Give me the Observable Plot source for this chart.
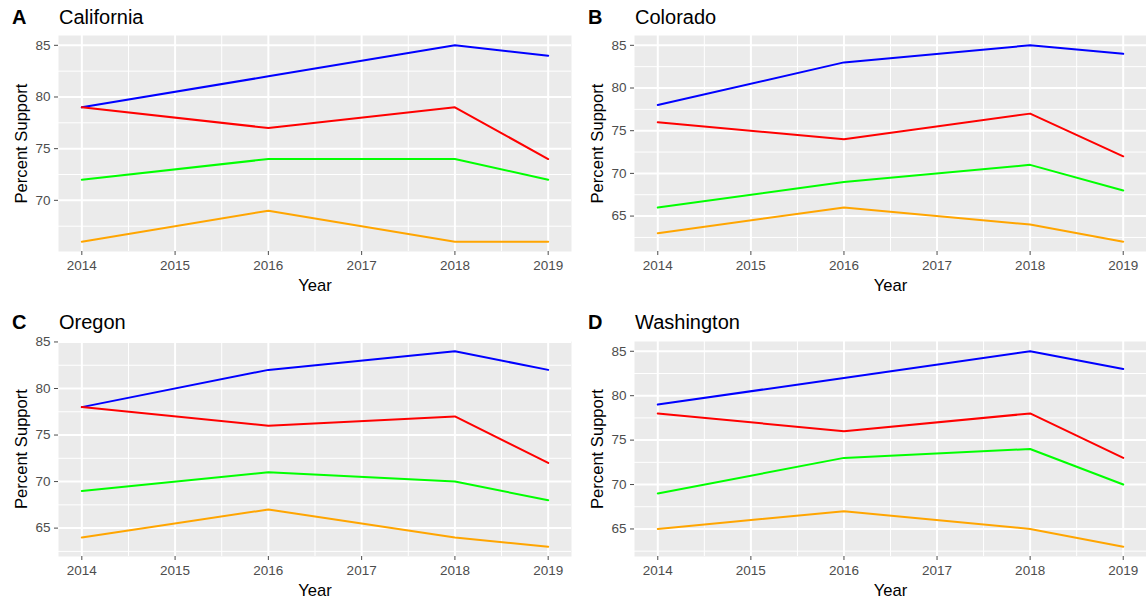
<!DOCTYPE html>
<html>
<head>
<meta charset="utf-8">
<script src="https://cdn.jsdelivr.net/npm/d3@7"></script>
<script src="https://cdn.jsdelivr.net/npm/@observablehq/plot@0.6"></script>
<style>
  html, body { margin: 0; padding: 0; background: #fff; }
  #root { position: relative; width: 1146px; height: 604px; overflow: hidden; font-family: "Liberation Sans", Arial, sans-serif; }
  .title { position: absolute; font-size: 20px; line-height: 20px; color: #000; white-space: nowrap; }
  .tag { font-weight: bold; }
  .chart { position: absolute; }
</style>
</head>
<body>
<div id="root"></div>
<script>
// ---- data ----
const years = [2014, 2016, 2018, 2019];
const seriesNames = ["Series 1", "Series 2", "Series 3", "Series 4"];
const seriesColors = ["blue", "red", "#00FF00", "orange"];
const xTicks = [2014, 2015, 2016, 2017, 2018, 2019];

const california = [
  [79, 82, 85, 84],
  [79, 77, 79, 74],
  [72, 74, 74, 72],
  [66, 69, 66, 66]
];
const colorado = [
  [78, 83, 85, 84],
  [76, 74, 77, 72],
  [66, 69, 71, 68],
  [63, 66, 64, 62]
];
const oregon = [
  [78, 82, 84, 82],
  [78, 76, 77, 72],
  [69, 71, 70, 68],
  [64, 67, 64, 63]
];
const washington = [
  [79, 82, 85, 83],
  [78, 76, 78, 73],
  [69, 73, 74, 70],
  [65, 67, 65, 63]
];

const tags = ["A", "B", "C", "D"];
const stateNames = ["California", "Colorado", "Oregon", "Washington"];
const stateValues = [california, colorado, oregon, washington];
const yTickSets = [
  [70, 75, 80, 85],
  [65, 70, 75, 80, 85],
  [65, 70, 75, 80, 85],
  [65, 70, 75, 80, 85]
];

// ---- layout ----
const layout = [
  {left: 0,   top: 0,   width: 573, titleTop: 7,   svgTop: 30,  mt: 5, mb: 51, mr: 2},
  {left: 576, top: 0,   width: 570, titleTop: 7,   svgTop: 30,  mt: 5, mb: 51, mr: 0},
  {left: 0,   top: 302, width: 573, titleTop: 312, svgTop: 332, mt: 9, mb: 48, mr: 2},
  {left: 576, top: 302, width: 570, titleTop: 312, svgTop: 332, mt: 9, mb: 48, mr: 0}
];

const root = document.getElementById("root");
const font = "'Liberation Sans', Arial, sans-serif";

tags.forEach((tag, k) => {
  const L = layout[k];
  const values = stateValues[k];
  const data = seriesNames.flatMap((s, i) =>
    years.map((yr, j) => ({year: yr, value: values[i][j], series: s})));
  const all = values.flat();
  const lo = d3.min(all), hi = d3.max(all);
  const pad = (hi - lo) * 0.05;
  const yDomain = [lo - pad, hi + pad];
  const yTicks = yTickSets[k];
  const yMinor = yTicks.map(t => t - 2.5).concat([yTicks[yTicks.length - 1] + 2.5])
    .filter(v => v > yDomain[0] && v < yDomain[1]);
  const xMinor = xTicks.slice(0, -1).map(t => t + 0.5);

  const title = document.createElement("div");
  title.className = "title";
  title.style.left = (L.left + 12) + "px";
  title.style.top = L.titleTop + "px";
  title.innerHTML = `<span class="tag">${tag}</span>`;
  root.appendChild(title);
  const title2 = document.createElement("div");
  title2.className = "title";
  title2.style.left = (L.left + 59) + "px";
  title2.style.top = L.titleTop + "px";
  title2.textContent = stateNames[k];
  root.appendChild(title2);

  const chart = Plot.plot({
    width: L.width,
    height: 272,
    marginTop: L.mt,
    marginBottom: L.mb,
    marginLeft: 58,
    marginRight: L.mr,
    style: {fontFamily: font, fontSize: "13.5px", background: "transparent", overflow: "visible"},
    x: {domain: [2013.75, 2019.25]},
    y: {domain: yDomain},
    color: {domain: seriesNames, range: seriesColors},
    marks: [
      Plot.frame({fill: "#EBEBEB", stroke: "none"}),
      Plot.gridX(xMinor, {stroke: "white", strokeOpacity: 1, strokeWidth: 1}),
      Plot.gridY(yMinor, {stroke: "white", strokeOpacity: 1, strokeWidth: 1}),
      Plot.gridX(xTicks, {stroke: "white", strokeOpacity: 1, strokeWidth: 2}),
      Plot.gridY(yTicks, {stroke: "white", strokeOpacity: 1, strokeWidth: 2}),
      Plot.axisX(xTicks, {tickSize: 4, tickPadding: 5, tickFormat: d => String(d), fontSize: 13.5, color: "#4D4D4D", label: null}),
      Plot.axisY(yTicks, {tickSize: 4, tickPadding: 4, fontSize: 13.5, color: "#4D4D4D", label: null}),
      Plot.line(data, {x: "year", y: "value", z: "series", stroke: "series", strokeWidth: 2}),
      Plot.text(["Year"], {frameAnchor: "bottom", lineAnchor: "middle", textAnchor: "middle", dy: 34, fontSize: 16.6, fill: "black"}),
      Plot.text(["Percent Support"], {frameAnchor: "left", textAnchor: "middle", lineAnchor: "middle", dx: -37, rotate: -90, fontSize: 16.6, fill: "black"})
    ]
  });
  chart.classList.add("chart");
  chart.style.left = L.left + "px";
  chart.style.top = L.svgTop + "px";
  root.appendChild(chart);
});
</script>
</body>
</html>
